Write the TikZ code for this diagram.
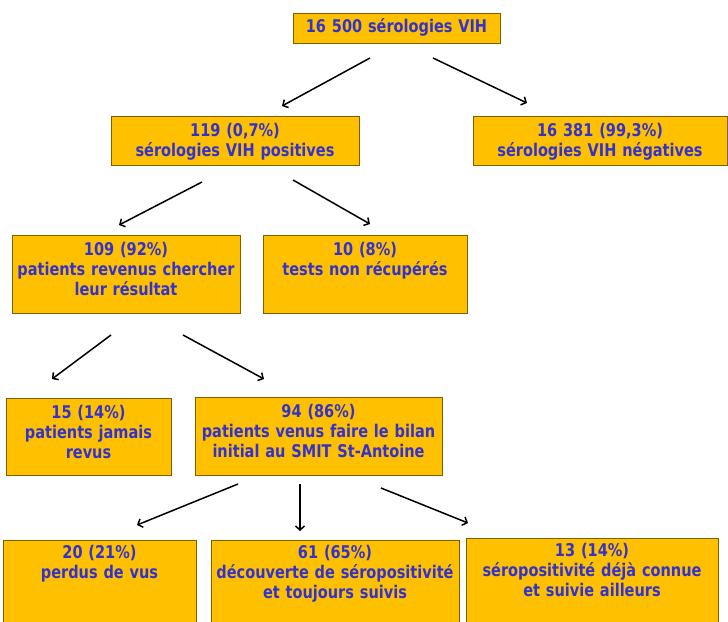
\documentclass[tikz,border=0pt]{standalone}
\usepackage{fontspec}
\usepackage{tikz}
\usetikzlibrary{arrows.meta}
\newfontfamily\boitefont[FakeStretch=0.83]{DejaVu Sans}
\definecolor{orangeboite}{HTML}{FFC000}
\definecolor{bordboite}{HTML}{7F6000}
\definecolor{bleutexte}{HTML}{3333CC}

\begin{document}
\begin{tikzpicture}[x=1pt,y=-1pt]
							\tikzstyle{every node}+=[inner sep=0pt, outer sep=0pt]
							\tikzstyle{boite}=[draw=bordboite, line width=1pt, fill=orangeboite, anchor=north west]
							\tikzstyle{texte}=[anchor=base, align=center, text=bleutexte, font=\boitefont\bfseries\fontsize{17.5}{20}\selectfont]
							\tikzstyle{fleche}=[line width=1.5pt, -{Straight Barb[length=4pt,width=9pt]}]
							\useasboundingbox (0,0) rectangle (728,621);
							\clip (0,0) rectangle (728,621);
							\node [boite, minimum width=207, minimum height=30] (total) at (293,13) {};
							\node [texte, text width=200] at ([shift={(0,19)}]total.north) {16 500 sérologies VIH};
							\node [boite, minimum width=248, minimum height=49] (pos) at (111,116) {};
							\node [texte, text width=240] at ([shift={(0,20)}]pos.north) {119 (0,7\%)\\sérologies VIH positives};
							\node [boite, minimum width=254, minimum height=49] (neg) at (473,116) {};
							\node [texte, text width=250] at ([shift={(0,20)}]neg.north) {16 381 (99,3\%)\\sérologies VIH négatives};
							\node [boite, minimum width=228, minimum height=78] (rev) at (12,235) {};
							\node [texte, text width=226] at ([shift={(0,20)}]rev.north) {109 (92\%)\\patients revenus chercher\\leur résultat};
							\node [boite, minimum width=204, minimum height=78] (nonrec) at (263,235) {};
							\node [texte, text width=200] at ([shift={(0,20)}]nonrec.north) {10 (8\%)\\tests non récupérés};
							\node [boite, minimum width=165, minimum height=77] (jamais) at (6,398) {};
							\node [texte, text width=160] at ([shift={(0,20)}]jamais.north) {15 (14\%)\\patients jamais\\revus};
							\node [boite, minimum width=247, minimum height=78] (bilan) at (195,397) {};
							\node [texte, text width=245] at ([shift={(0,20)}]bilan.north) {94 (86\%)\\patients venus faire le bilan\\initial au SMIT St-Antoine};
							\node [boite, minimum width=193, minimum height=100] (perdus) at (3,540) {};
							\node [texte, text width=190] at ([shift={(0,18)}]perdus.north) {20 (21\%)\\perdus de vus};
							\node [boite, minimum width=248, minimum height=100] (suivis) at (211,540) {};
							\node [texte, text width=246] at ([shift={(0,18)}]suivis.north) {61 (65\%)\\découverte de séropositivité\\et toujours suivis};
							\node [boite, minimum width=252, minimum height=100] (ailleurs) at (466,538) {};
							\node [texte, text width=250] at ([shift={(0,18)}]ailleurs.north) {13 (14\%)\\séropositivité déjà connue\\et suivie ailleurs};
							\draw [fleche] ([shift={(-26.5,15)}]total.south) -- ([shift={(47,-10)}]pos.north);
							\draw [fleche] ([shift={(36.5,15)}]total.south) -- ([shift={(-73,-13)}]neg.north);
							\draw [fleche] ([shift={(-33,17)}]pos.south) -- ([shift={(-7,-10)}]rev.north);
							\draw [fleche] ([shift={(58,15)}]pos.south) -- ([shift={(5,-11)}]nonrec.north);
							\draw [fleche] ([shift={(-15,22)}]rev.south) -- ([shift={(-36.5,-19)}]jamais.north);
							\draw [fleche] ([shift={(57,22)}]rev.south) -- ([shift={(-54.5,-18)}]bilan.north);
							\draw [fleche] ([shift={(-80.5,9)}]bilan.south) -- ([shift={(37.5,-15)}]perdus.north);
							\draw [fleche] ([shift={(-18.5,9)}]bilan.south) -- ([shift={(-35,-9)}]suivis.north);
							\draw [fleche] ([shift={(62.5,13)}]bilan.south) -- ([shift={(-124,-15)}]ailleurs.north);
\end{tikzpicture}
\end{document}
